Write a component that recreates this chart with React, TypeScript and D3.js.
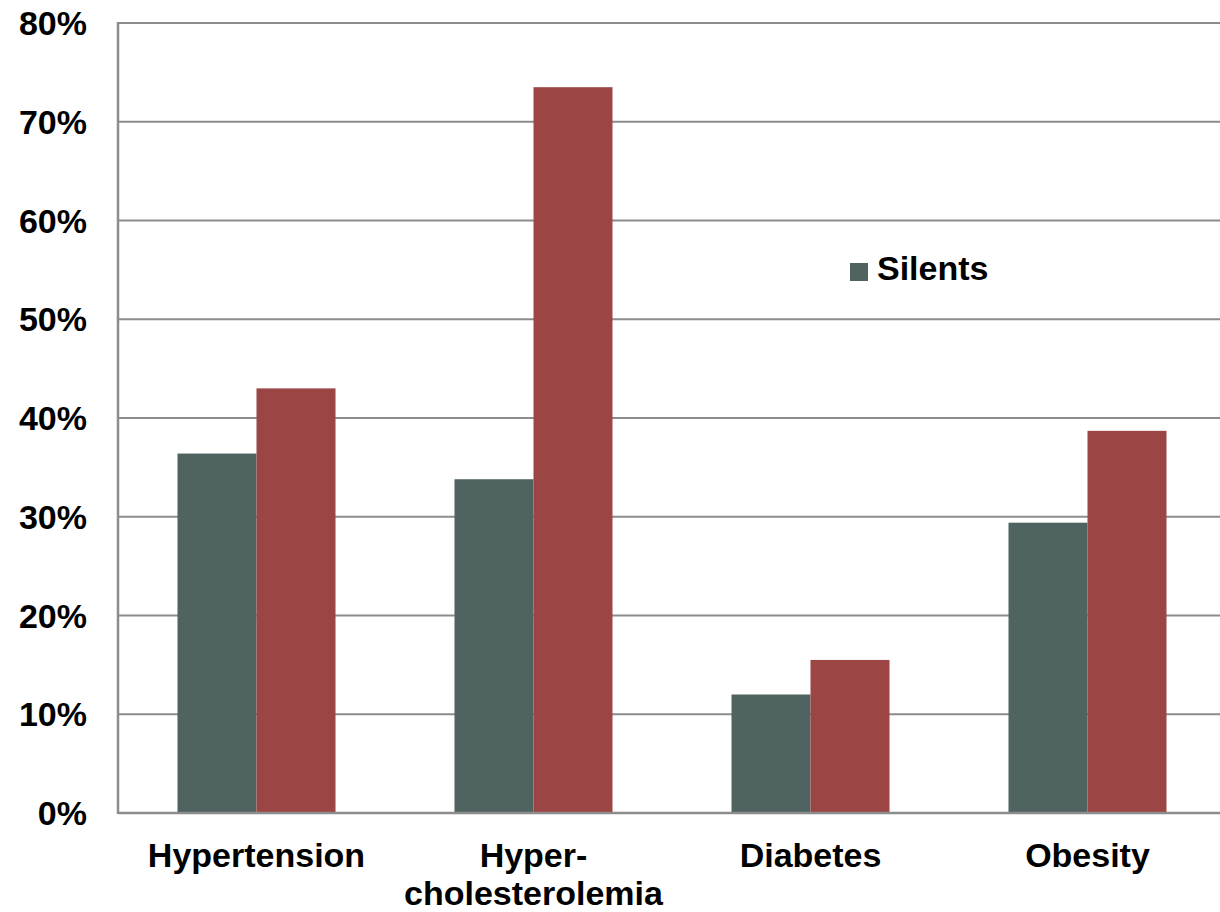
import React from "react";
import * as d3 from "d3";

const categories: string[][] = [
  ["Hypertension"],
  ["Hyper-", "cholesterolemia"],
  ["Diabetes"],
  ["Obesity"],
];
const seriesNames = ["Silents", "Others"];
const silents = [36.4, 33.8, 12.0, 29.4];
const others = [43.0, 73.5, 15.5, 38.7];
const yTicks = [0, 10, 20, 30, 40, 50, 60, 70, 80];
const colors = ["#4F6460", "#9C4545"];

const W = 1220;
const H = 912;
const left = 118;
const right = 1226;
const top = 23;
const bottom = 813;
const font = "'Liberation Sans', Arial, sans-serif";

export default function App() {
  const x = d3
    .scaleBand<number>()
    .domain(d3.range(categories.length))
    .range([left, right])
    .paddingInner(0.4296)
    .paddingOuter(0.2148);
  const xs = d3
    .scaleBand<number>()
    .domain([0, 1])
    .range([0, x.bandwidth()]);
  const y = d3.scaleLinear().domain([0, 80]).range([bottom, top]);
  const series = [silents, others];

  return (
    <div style={{ position: "absolute", left: 0, top: 0 }}>
      <svg width={W} height={H} style={{ display: "block", background: "#fff" }}>
        {yTicks.map((t) => (
          <line
            key={"g" + t}
            x1={left}
            x2={right}
            y1={y(t)}
            y2={y(t)}
            stroke="#8c8c8c"
            strokeWidth={2}
          />
        ))}
        {series.map((vals, si) =>
          vals.map((v, i) => (
            <rect
              key={si + "-" + i}
              x={(x(i) as number) + (xs(si) as number)}
              y={y(v)}
              width={xs.bandwidth()}
              height={y(0) - y(v)}
              fill={colors[si]}
            />
          ))
        )}
        <line x1={left} x2={left} y1={top - 1} y2={bottom + 1} stroke="#8c8c8c" strokeWidth={2.5} />
        <line x1={left} x2={right} y1={bottom} y2={bottom} stroke="#8c8c8c" strokeWidth={2.5} />
        {yTicks.map((t) => (
          <text
            key={"t" + t}
            x={87}
            y={y(t) + 12}
            textAnchor="end"
            fontFamily={font}
            fontWeight="bold"
            fontSize={34}
            fill="#000"
          >
            {t + "%"}
          </text>
        ))}
        {categories.map((lines, i) => (
          <text
            key={"c" + i}
            x={(x(i) as number) + x.bandwidth() / 2}
            textAnchor="middle"
            fontFamily={font}
            fontWeight="bold"
            fontSize={34}
            fill="#000"
          >
            {lines.map((l, j) => (
              <tspan key={j} x={(x(i) as number) + x.bandwidth() / 2} y={867 + j * 38}>
                {l}
              </tspan>
            ))}
          </text>
        ))}
        <rect x={850} y={263} width={18} height={18} fill={colors[0]} />
        <text x={877} y={280} fontFamily={font} fontWeight="bold" fontSize={34} fill="#000">
          {seriesNames[0]}
        </text>
      </svg>
    </div>
  );
}
